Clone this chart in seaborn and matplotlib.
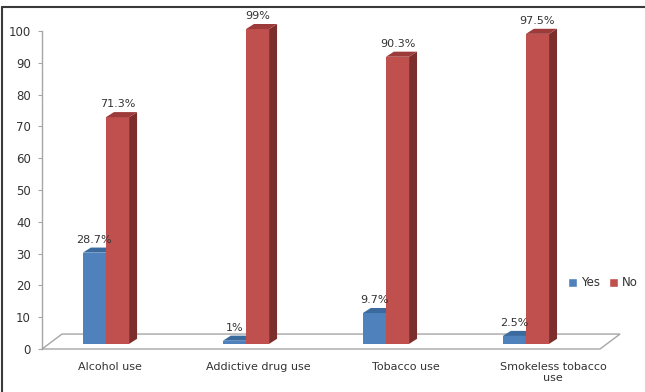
import pandas as pd
import matplotlib.pyplot as plt
import seaborn as sns
from matplotlib.patches import Polygon, Patch
from matplotlib.lines import Line2D

# data
categories = ['Alcohol use', 'Addictive drug use', 'Tobacco use', 'Smokeless tobacco use']
tick_labels = ['Alcohol use', 'Addictive drug use', 'Tobacco use', 'Smokeless tobacco\nuse']
yes_pct = [28.7, 1.0, 9.7, 2.5]
no_pct = [71.3, 99.0, 90.3, 97.5]
yes_labels = ['28.7%', '1%', '9.7%', '2.5%']
no_labels = ['71.3%', '99%', '90.3%', '97.5%']

df = pd.DataFrame({
    'category': categories * 2,
    'response': ['Yes'] * 4 + ['No'] * 4,
    'percent': yes_pct + no_pct,
    'label': yes_labels + no_labels,
})

front = {'Yes': '#4F81BD', 'No': '#C0504D'}
top = {'Yes': '#3B6A9E', 'No': '#9C3B39'}
side = {'Yes': '#2F5685', 'No': '#7C2E2C'}
text_col = '#333333'
grey = '#A6A6A6'

sns.set_style('white')
plt.rcParams['font.family'] = ['DejaVu Sans']

fig = plt.figure(figsize=(6.45, 3.92), dpi=100)
ax = fig.add_axes([42 / 645, 43 / 392, 558 / 645, 318 / 392])

base = 1.6       # bars stand a little inside the floor
dx, dy = 0.057, 1.6   # bar depth (data units)
fdx, fdy = 0.143, 4.7  # floor depth

sns.barplot(data=df, x='category', y='percent', hue='response',
            hue_order=['Yes', 'No'], palette=front, saturation=1,
            width=0.33, dodge=True, legend=False, bottom=base,
            linewidth=0, ax=ax)

xmin, xmax = -0.457, 3.529
ax.set_xlim(xmin, xmax)
ax.set_ylim(0, 100)

# 3d faces for each bar
bars = list(ax.patches)
for i, bar in enumerate(bars):
    resp = df['response'].iloc[i]
    z = 2 if resp == 'Yes' else 3
    bar.set_zorder(z)
    bar.set_clip_on(False)
    x0, y0 = bar.get_x(), bar.get_y()
    w, h = bar.get_width(), bar.get_height()
    ax.add_patch(Polygon([(x0 + w, y0), (x0 + w + dx, y0 + dy),
                          (x0 + w + dx, y0 + h + dy), (x0 + w, y0 + h)],
                         closed=True, facecolor=side[resp], edgecolor='none',
                         zorder=z, clip_on=False))
    ax.add_patch(Polygon([(x0, y0 + h), (x0 + dx, y0 + h + dy),
                          (x0 + w + dx, y0 + h + dy), (x0 + w, y0 + h)],
                         closed=True, facecolor=top[resp], edgecolor='none',
                         zorder=z, clip_on=False))
    ax.annotate(df['label'].iloc[i], (x0 + w / 2, y0 + h + dy),
                xytext=(0, 2), textcoords='offset points', ha='center', va='bottom',
                fontsize=8, color=text_col, zorder=5, annotation_clip=False)

# floor
ax.add_patch(Polygon([(xmin, 0), (xmax, 0), (xmax + fdx, fdy), (xmin + fdx, fdy)],
                     closed=True, facecolor='white', edgecolor=grey, linewidth=1,
                     clip_on=False, zorder=1))

ax.set_yticks(range(0, 101, 10))
label_pos = [i * 1.055 + 0.03 for i in range(len(categories))]
ax.set_xticks(label_pos)
ax.set_xticklabels(tick_labels)
ax.set_xlabel('')
ax.set_ylabel('')
ax.tick_params(axis='x', length=0, pad=9, labelsize=8, labelcolor=text_col)
ax.tick_params(axis='y', length=3, width=0.8, color=grey, pad=5, labelsize=8.5,
               labelcolor=text_col, left=True)

for s in ['top', 'right', 'bottom']:
    ax.spines[s].set_visible(False)
ax.spines['left'].set_color(grey)
ax.spines['left'].set_linewidth(1)
ax.patch.set_alpha(0)

handles = [Patch(facecolor=front['Yes'], label='Yes'),
           Patch(facecolor=front['No'], label='No')]
fig.legend(handles=handles, loc='center', bbox_to_anchor=(603 / 645, 1 - 283 / 392),
           ncol=2, frameon=False, fontsize=8.5, handlelength=0.8, handleheight=0.8,
           handletextpad=0.35, columnspacing=0.7, labelcolor=text_col)

# chart frame (only top and left edges are visible in the crop)
fig.add_artist(Line2D([2 / 645, 2 / 645], [0, 1 - 7 / 392], color='#3A3A3A', linewidth=1.5))
fig.add_artist(Line2D([2 / 645, 1], [1 - 7 / 392, 1 - 7 / 392], color='#3A3A3A', linewidth=1.5))

fig.savefig('out.png', dpi=100)
